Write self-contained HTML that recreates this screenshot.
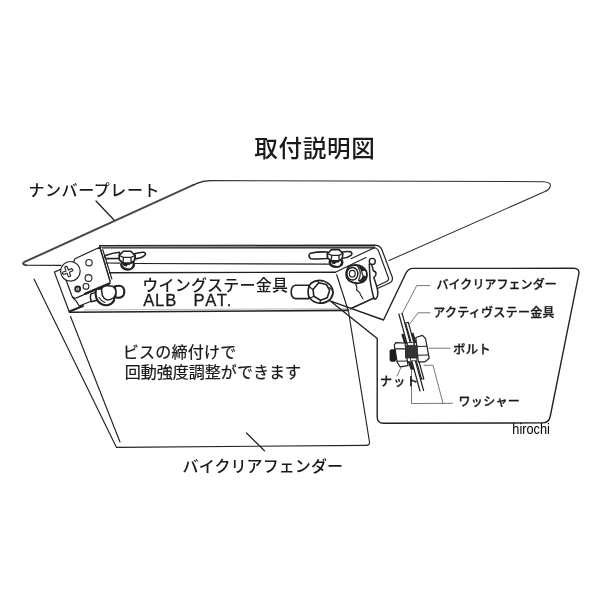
<!DOCTYPE html>
<html lang="ja">
<head>
<meta charset="utf-8">
<title>取付説明図</title>
<style>
html,body{margin:0;padding:0;background:#fff;}
body{width:600px;height:600px;overflow:hidden;}
svg{display:block;will-change:transform;}
text{font-family:"Liberation Sans","Noto Sans CJK JP",sans-serif;fill:#1a1a1a;}
.l{fill:none;stroke:#222;stroke-width:1.15;stroke-linecap:round;stroke-linejoin:round;}
.t{fill:none;stroke:#1a1a1a;stroke-width:1.7;stroke-linecap:round;stroke-linejoin:round;}
.h{fill:none;stroke:#555;stroke-width:0.8;stroke-linecap:round;stroke-linejoin:round;}
.w{fill:#fff;stroke:#222;stroke-width:1.1;stroke-linejoin:round;}
.k{fill:#222;stroke:#222;stroke-width:1;}
</style>
</head>
<body>
<svg width="600" height="600" viewBox="0 0 600 600">
<rect width="600" height="600" fill="#fff"/>

<!-- number plate -->
<g id="plate">
<path class="l" d="M61,265.300 L26,265.200"/>
<path d="M26,265.200 Q21.500,264 24,262.200 L194,184.700" fill="none" stroke="#484848" stroke-width="2" stroke-linecap="round"/>
<path style="stroke-width:1.200" class="l" d="M194,184.700 L197,183.400 Q203,180.700 210,180.600"/>
<path style="stroke-width:1.300" class="l" d="M96,201 L114,220"/>
<path style="stroke-width:1.05;stroke:#2e2e2e" class="l" d="M210,180.600 L544,181.700 Q552,182.400 550,187 Q549,190 545,191.500 L389,260.500"/>
</g>

<!-- fender -->
<g id="fender">
<path class="l" d="M34,279 L116.500,447.400 L366,445.400 Q369.900,445.300 369.500,442 L348.500,311.500 L336.700,274.700"/>
<path class="l" d="M70.500,316.500 L120,442"/>
<path style="stroke-width:1.200" class="l" d="M246.500,433 L264.500,450.800"/>
</g>

<!-- bracket -->
<g id="bracket">
<!-- channel body -->
<path d="M99.7,246.6 L375,246.2" fill="none" stroke="#8a8a8a" stroke-width="3"/>
<path style="stroke-width:1.2" class="l" d="M99.5,245.500 L375,245.100 Q380.500,245.400 382,250 L392.300,277.300 Q393.200,281.300 389.500,283 L377.500,288.500"/>
<path class="l" d="M102.5,248 L374,247.700 Q377.500,248 378.700,251.500 L388.500,278 Q389.200,280.300 386.500,281.600 L376.500,286.300"/>
<path style="stroke-width:1.5" class="l" d="M99.700,246.600 L109.900,281"/>
<path class="l" d="M102.700,249.500 L111.900,279"/>
<path class="l" d="M133.500,263.500 L328.500,264.100"/>
<path class="l" d="M106,263 L119.500,263.100"/>
<path style="stroke-width:1.4" class="l" d="M109.500,272.800 L335.300,272.200"/>
<path class="l" d="M335.300,272.200 L366,257.500"/>
<path class="l" d="M351,258.700 L375,247.500"/>
<path d="M84,309.900 L347,308.700" fill="none" stroke="#999" stroke-width="0.7"/>
<path style="stroke-width:1.600" class="l" d="M69.500,312.200 L348.500,310.400"/>
<!-- right plate bottom -->
<path style="stroke-width:1.600" class="l" d="M374,298 L350.500,308.800"/>
<!-- L bracket left -->
<path style="stroke-width:1.2" class="l" d="M60.800,269.300 L54.400,272.100 L69.300,312"/>
<path style="stroke-width:1.2" class="l" d="M72.300,297 L76.400,301.400 L79.200,306 L93,300.500"/>
<path style="stroke-width:2" class="l" d="M70,311.300 L83,306"/>
<!-- dome bolt left (behind plate) -->
<g id="bolt1">
<path style="stroke-width:1.400" class="w" d="M96,292.300 L91,293.800 Q89.600,297 91.300,301.700 L97,300.300 Z"/>
<path style="stroke-width:2.100" class="w" d="M96,289 Q94.500,296 98,301.300 Q102,305.800 107.500,305.200 Q112,304.300 114,300.500 L115,288 Z"/>
<path style="stroke-width:2" class="w" d="M115,286.200 Q120.500,284.800 123,287.300 Q125.300,291 123.700,295 Q121.500,298.700 115.800,297.600 Z"/>
<path style="stroke-width:1.500" class="w" d="M101.500,289 Q102,286.500 106,285.500 L112.500,286.200 Q116,288.500 116,292 Q115.500,296.500 113.300,298 Q110,300.300 106.700,299.800 Q103.500,298.500 102.300,295.500 Z"/>
<path style="stroke-width:1.100" class="l" d="M99,297.500 Q101,301 105,302.500"/>
</g>
<!-- small plate with holes -->
<path style="stroke-width:1.2" class="w" d="M75,258.700 L99.700,247.300 L110,281.300 Q110.300,283.300 108.500,284 L76.500,297.900 Q73.200,298.800 72,296 L66,280 Z"/>
<path style="stroke-width:2.300" class="l" d="M85,293.900 L109.300,283.500"/>
<circle class="w" cx="89" cy="262.700" r="3.200"/>
<circle class="w" cx="88.500" cy="278" r="3.400"/>
<circle class="w" cx="86" cy="286.400" r="2.900"/>
<circle cx="77.700" cy="289" r="2.500" fill="#fff" stroke="#222" stroke-width="1.900"/>
<circle cx="77.700" cy="289" r="0.800" fill="#222"/>
<!-- screw head -->
<circle style="stroke-width:1.200" class="w" cx="70.400" cy="271.300" r="9.800"/>
<g transform="translate(67.700,271.600) rotate(-22)">
<path style="stroke-width:1.100" class="w" d="M-1.200,-5 Q0,-6 1.200,-5 L1.300,-1.300 L5,-1.200 Q6,0 5,1.200 L1.300,1.300 L1.200,5 Q0,6 -1.200,5 L-1.300,1.300 L-5,1.200 Q-6,0 -5,-1.200 L-1.300,-1.300 Z"/>
</g>
<!-- wing nut 1 -->
<g id="wing1">
<path style="stroke-width:1.600" class="w" d="M105.500,255.500 Q112,253 119.500,252.300 L119.500,258.500 L106,258.600 Q104,257.200 105.500,255.500 Z"/>
<path style="stroke-width:1.600" class="w" d="M134.500,253.800 Q140,252 143.500,252.200 Q146.300,253 145,255 Q142.500,258 135.500,258.900 Z"/>
<ellipse cx="127.600" cy="264.600" rx="6.300" ry="4.800" fill="#fff" stroke="#222" stroke-width="2.500"/>
<ellipse cx="126.600" cy="263.800" rx="3.800" ry="2.700" fill="#222"/>
<ellipse cx="129.200" cy="266.600" rx="2.500" ry="1.800" fill="#fff"/>
<path style="stroke-width:1.600" class="w" d="M119.200,255.500 L123.300,251.300 L130.800,251.300 L135,255.500 L134.500,260.500 L131,263 L123,262.700 L119.400,260 Z"/>
<path style="stroke-width:1.3" class="l" d="M119.200,255.500 L123.500,257.300 L131,257.300 L135,255.500 M123.500,257.300 L123,262.700 M131,257.300 L131,263"/>
</g>
<!-- wing nut 2 -->
<g id="wing2">
<path style="stroke-width:1.600" class="w" d="M310.500,253.200 Q318,251.500 327.500,252 L327.500,258.500 Q318,259.300 311,258.800 Q307.300,256.200 310.500,253.200 Z"/>
<path style="stroke-width:1.600" class="w" d="M341,252.300 Q347,251 350.500,251.800 Q353,253 351,255.300 Q347.500,258 341.500,258.500 Z"/>
<ellipse cx="336" cy="262.200" rx="6.300" ry="4.600" fill="#fff" stroke="#222" stroke-width="2.500"/>
<ellipse cx="335" cy="261.500" rx="3.800" ry="2.600" fill="#222"/>
<ellipse cx="337.500" cy="264.200" rx="2.500" ry="1.700" fill="#fff"/>
<path style="stroke-width:1.600" class="w" d="M327.500,253.500 L331.500,249.600 L339,249.600 L342.800,253.500 L342.300,258.500 L339,260.800 L331,260.600 L327.500,258 Z"/>
<path style="stroke-width:1.3" class="l" d="M327.500,253.500 L331.800,255.300 L339,255.300 L342.800,253.500 M331.800,255.300 L331,260.600 M339,255.300 L339,260.800"/>
</g>
<!-- dome bolt 2 (centre right) -->
<g id="bolt2">
<path style="stroke-width:1.600" class="w" d="M309,285.300 L295.500,285.300 Q291.200,286 291.200,292 Q291.200,298 295.500,298.600 L309,298.600 Z"/>
<path style="stroke-width:1.700" class="w" d="M311,283.300 Q316,279.500 323,280.800 Q330,283 332.500,289 Q334,295 330,299.500 Q325,304 318,303 Q311,301.500 308.500,295.500 Q307,288.500 311,283.300 Z"/>
<path style="stroke-width:1.600" class="l" d="M313,289.500 L318.800,282.800 L326.300,284.500 L329.700,290.300 L327.200,297.800 L320.500,300.300 L313.800,296.200 Z"/>
<path style="stroke-width:1.3" class="l" d="M313,289.500 L309.500,287 M313.800,296.200 L310.500,298 M320.500,300.300 L320,303 M318.800,282.800 L317.500,280.500"/>
<path style="stroke-width:1.300" class="l" d="M329.700,287.800 Q333.500,290 333,293.500 Q332.500,296 331,297.500"/>
</g>
<!-- hex bolt on right plate -->
<g id="bolt3">
<path style="stroke-width:1.800" class="w" d="M349,266.500 Q353,264.300 359,265.300 Q366,267.500 367,274 Q367.200,280 362,282.500 Q355,284.500 349.500,281 Q345.500,277.500 346.200,272.500 Q347,268.300 349,266.500 Z"/>
<path d="M356,265.800 Q363,266.500 365.500,270.500 L361.500,271.500 Q360,268.500 356,265.800 Z" fill="#222"/>
<path d="M366.300,276 Q365.500,281 360,282.800 L358.500,280.500 Q362,279 363,275.500 Z" fill="#222"/>
<path class="l" d="M358.500,268 Q362,273 358.500,280.500 M361.500,271.500 L363,275.500"/>
<ellipse style="stroke-width:1.500" class="w" cx="352.400" cy="273.700" rx="5.500" ry="6.300"/>
<ellipse style="stroke-width:1.200" class="w" cx="352.300" cy="273.700" rx="2.900" ry="3.300"/>
</g>
<!-- R-pin -->
<circle style="stroke-width:1.400" class="w" cx="372.300" cy="261.400" r="3"/>
<path style="stroke-width:1.500" class="l" d="M369.300,264 L370,279.500 Q371,287 373.800,298.500"/>
<path style="stroke-width:1.500" class="l" d="M371.500,264.500 Q373,268 373.200,270.700 Q376.300,271.500 376,274 Q375.800,276.500 373.800,277.500 L376.800,286.500 Q378.500,292 377.500,296 Q376,300.500 373.800,298.500"/>
<path class="l" d="M355.700,284 Q357.500,288 356.500,290 Q360,292 360.500,295 L363,298.700"/>
</g>

<!-- inset frame -->
<g id="inset">
<path style="stroke-width:1.400" class="l" d="M330,300.800 L383.500,320 L406,273 Q408.500,268.400 413,268.400 L573.500,268.300 Q579.800,268.400 578.800,274 L550.300,416 Q549,422.900 542.500,422.900 L383.500,423.200 Q377.200,423.200 377.200,417 L377.200,338.500 L330,300.800"/>
<!-- leaders -->
<path class="h" d="M430,285.6 L416.7,285.6 L401.7,314.5"/>
<path class="h" d="M430,312.8 L418,312.8 L410,323.5"/>
<path class="h" d="M429,348.2 L450,348.2"/>
<path class="h" d="M424,365.3 L433,365.3 L443,403.3 M411.5,368 L411.5,403.5 L452.5,403.3"/>
<path class="h" d="M402.5,364 L397,376"/>
<!-- fender section -->
<path style="stroke-width:1.2" class="l" d="M398.9,314 L420,391 M402.1,313.3 L423.6,390.5"/>
<!-- stay plate -->
<path style="stroke-width:1.2" class="l" d="M405.5,323 L421.5,378.8 L423.8,379 L408.3,322.3 Z"/>
<!-- dark wedge above bolt -->
<path d="M402.500,334 L405.500,344" stroke="#222" stroke-width="2.600" fill="none"/>
<path d="M412.300,333 L415.300,343" stroke="#222" stroke-width="2.400" fill="none"/>
<!-- bolt head -->
<path style="stroke-width:1.2" class="w" d="M415.8,337.5 L422.5,335.4 L425.5,338.5 L429.2,358.3 L425,361.8 L418.3,361.8 Z"/>
<path class="l" d="M416.5,346.5 L427,346.2 M417.500,355.3 L428.5,355"/>
<!-- nut -->
<path style="stroke-width:1.2" class="w" d="M394.2,345.2 L395.8,342.6 L405,343 L408,365.6 L400,366.8 L397.3,362.5 Z"/>
<path class="l" d="M394.5,348.8 L405,348.8 M397,361.3 L407,361"/>
<!-- thread end -->
<rect x="389.600" y="349.200" width="6.500" height="12.500" rx="2" fill="#1c1c1c"/>
<!-- dark core -->
<rect x="405" y="345.200" width="12.800" height="13.200" fill="#333"/>
<rect style="stroke-width:0.8" class="w" x="407.5" y="342.6" width="6.3" height="2.800"/>
<rect style="stroke-width:0.8" class="w" x="410.5" y="358" width="6.3" height="2.801"/>
<path d="M407.500,361 L412,361.5 L414.500,370 L410.5,369.5 Z" fill="#2a2a2a"/>
</g>

<!-- labels -->
<g id="labels">
<text x="254.13" y="156.54" font-size="23.6" font-weight="500" textLength="120.8" lengthAdjust="spacing">取付説明図</text>
<text x="28.48" y="195.53" font-size="16.0" font-weight="500" textLength="130.98" lengthAdjust="spacing">ナンバープレート</text>
<text x="142.32" y="290.73" font-size="16.0" font-weight="500" textLength="145.59" lengthAdjust="spacing">ウイングステー金具</text>
<text x="143.16" y="306.0" font-size="16.6" textLength="33.05" lengthAdjust="spacing" stroke="#1a1a1a" stroke-width="0.3">ALB</text>
<text x="193.58" y="306.02" font-size="16.6" textLength="37.85" lengthAdjust="spacing" stroke="#1a1a1a" stroke-width="0.3">PAT.</text>
<text x="122.8" y="357.67" font-size="16.0" textLength="113.51" lengthAdjust="spacing" stroke="#1a1a1a" stroke-width="0.22">ビスの締付けで</text>
<text x="124.63" y="378.12" font-size="16.0" textLength="176.38" lengthAdjust="spacing" stroke="#1a1a1a" stroke-width="0.22">回動強度調整ができます</text>
<text x="182.57" y="471.67" font-size="16.0" font-weight="500" textLength="160.47" lengthAdjust="spacing">バイクリアフェンダー</text>
<text x="436.52" y="289.46" font-size="12.0" font-weight="500" textLength="120.22" lengthAdjust="spacing" stroke="#1a1a1a" stroke-width="0.3">バイクリアフェンダー</text>
<text x="433.32" y="316.91" font-size="12.0" font-weight="500" textLength="121.17" lengthAdjust="spacing" stroke="#1a1a1a" stroke-width="0.3">アクティヴステー金具</text>
<text x="452.97" y="354.48" font-size="12.4" font-weight="500" textLength="37.77" lengthAdjust="spacing" stroke="#1a1a1a" stroke-width="0.3">ボルト</text>
<text x="458.46" y="405.6" font-size="12.0" font-weight="500" textLength="61.35" lengthAdjust="spacing" stroke="#1a1a1a" stroke-width="0.3">ワッシャー</text>
<text x="380.07" y="385.73" font-size="12.0" font-weight="500" textLength="38.16" lengthAdjust="spacing" stroke="#1a1a1a" stroke-width="0.3">ナット</text>
<text x="512.3" y="433.7" font-size="14" textLength="37.6" lengthAdjust="spacingAndGlyphs" style="fill:#000">hirochi</text>
</g>
</svg>
</body>
</html>
